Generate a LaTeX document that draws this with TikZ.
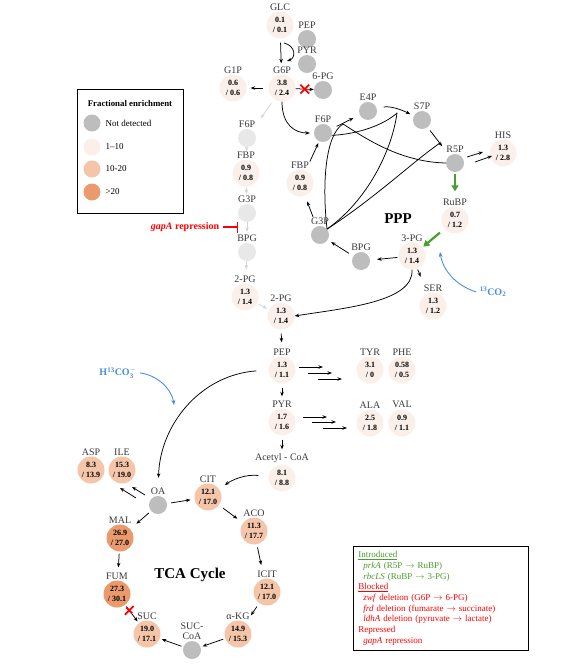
\documentclass[tikz,border=0pt]{standalone}
\usepackage{fontspec}
\setmainfont{Liberation Serif}
\usepackage{xcolor}
\usetikzlibrary{arrows.meta,positioning,shapes.misc}

\definecolor{ndgrey}{HTML}{BDBDBD}
\definecolor{offgrey}{HTML}{E8E8E8}
\definecolor{offline}{HTML}{D4D4D4}
\definecolor{lowfill}{HTML}{FBF0E9}
\definecolor{midfill}{HTML}{F5C5A9}
\definecolor{highfill}{HTML}{EA9A6C}
\definecolor{labgrey}{HTML}{3A3A3A}
\definecolor{introgreen}{HTML}{4A9E2C}
\definecolor{tracerblue}{HTML}{4B8FDB}

\begin{document}
\begin{tikzpicture}[
  x=1pt, y=-1pt,
  font=\fontsize{10}{11}\selectfont,
  met/.style={circle, fill=lowfill, minimum size=27pt, inner sep=0pt,
              align=center, font=\fontsize{8}{10.5}\selectfont\bfseries},
  mid/.style={met, fill=midfill},
  high/.style={met, fill=highfill},
  nd/.style={circle, fill=ndgrey, minimum size=18pt, inner sep=0pt},
  off/.style={nd, fill=offgrey},
  lbl/.style={font=\fontsize{10}{10.5}\selectfont, text=labgrey,
              inner sep=1pt, align=center},
  arr/.style={-{Stealth[length=4.5pt, width=3.5pt]}, line width=0.75pt},
  offarr/.style={arr, draw=offline},
  garr/.style={-{Triangle[length=6pt, width=7pt]}, line width=2.2pt,
               draw=introgreen},
  link/.style={line width=0.75pt},
  tracer/.style={-{Stealth[length=5pt, width=4pt]}, line width=0.9pt,
                 draw=tracerblue},
  tracertext/.style={font=\fontsize{10}{11}\selectfont\bfseries,
                     text=tracerblue},
  crossx/.style={cross out, draw=red, line width=1.8pt, minimum size=7pt,
                 inner sep=0pt},
  key/.style={circle, minimum size=17pt, inner sep=0pt},
]
\fill[white] (0,0) rectangle (587,666);
\useasboundingbox (0,0) rectangle (587,666);

% glycolysis (upper part)
\node[met, label={[lbl]above:GLC}]  (glc)  at (280,25)  {0.1\\/ 0.1};
\node[nd,  label={[lbl]above:PEP}]  (pepa) at (307,39)  {};
\node[nd,  label={[lbl]above:PYR}]  (pyra) at (307,64)  {};
\node[met, label={[lbl]above:G6P}]  (g6p)  at (282,88)  {3.8\\/ 2.4};
\node[met, label={[lbl]above:G1P}]  (g1p)  at (233,88)  {0.6\\/ 0.6};
\node[nd,  label={[lbl]above:6-PG}] (pg6)  at (323,90)  {};
\node[off, label={[lbl]above:F6P}]  (f6pa) at (247,138) {};
\node[met, label={[lbl]above:FBP}]  (fbpa) at (246,173) {0.9\\/ 0.8};
\node[off, label={[lbl]above:G3P}]  (g3pa) at (247,213) {};
\node[off, label={[lbl]above:BPG}]  (bpga) at (247,252) {};
\node[met, label={[lbl]above:2-PG}] (pg2a) at (245,297) {1.3\\/ 1.4};
\node[met, label={[lbl]above:2-PG}] (pg2b) at (281,316) {1.3\\/ 1.4};
\node[met, label={[lbl]above:PEP}]  (pep)  at (282,370) {1.3\\/ 1.1};
\node[met, label={[lbl]above:PYR}]  (pyr)  at (282,422) {1.7\\/ 1.6};
\node[met, label={[lbl]above:Acetyl - CoA}] (acoa) at (282,478) {8.1\\/ 8.8};
\node[met, label={[lbl]above:TYR}]  (tyr)  at (370,370) {3.1\\/ 0};
\node[met, label={[lbl]above:PHE}]  (phe)  at (402,370) {0.58\\/ 0.5};
\node[met, label={[lbl]above:ALA}]  (ala)  at (370,423) {2.5\\/ 1.8};
\node[met, label={[lbl]above:VAL}]  (val)  at (402,423) {0.9\\/ 1.1};

% PPP and Calvin part
\node[nd,  label={[lbl]above:F6P}]  (f6pb) at (323,133) {};
\node[nd,  label={[lbl]above:E4P}]  (e4p)  at (368,111) {};
\node[nd,  label={[lbl]above:S7P}]  (s7p)  at (422,120) {};
\node[nd,  label={[lbl]above:R5P}]  (r5p)  at (455,163) {};
\node[met, label={[lbl]above:HIS}]  (his)  at (503,153) {1.3\\/ 2.8};
\node[met, label={[lbl]above:FBP}]  (fbpb) at (300,183) {0.9\\/ 0.8};
\node[nd,  label={[lbl]above:G3P}]  (g3pb) at (320,235) {};
\node[nd,  label={[lbl]above:BPG}]  (bpgb) at (361,261) {};
\node[met, label={[lbl]above:3-PG}] (pg3)  at (412,256) {1.3\\/ 1.4};
\node[met, label={[lbl]above:RuBP}] (rubp) at (455,220) {0.7\\/ 1.2};
\node[met, label={[lbl]above:SER}]  (ser)  at (433,306) {1.3\\/ 1.2};
\node[font=\fontsize{15}{16}\selectfont\bfseries] (ppp) at (398,219) {PPP};

% TCA cycle
\node[mid,  label={[lbl]above:ASP}]  (asp)    at (91,470)  {8.3\\/ 13.9};
\node[mid,  label={[lbl]above:ILE}]  (ile)    at (122,470) {15.3\\/ 19.0};
\node[nd,   label={[lbl]above:OA}]   (oa)     at (158,505) {};
\node[mid,  label={[lbl]above:CIT}]  (cit)    at (208,497) {12.1\\/ 17.0};
\node[mid,  label={[lbl]above:ACO}]  (aco)    at (254,531) {11.3\\/ 17.7};
\node[mid,  label={[lbl]above:ICIT}] (icit)   at (267,592) {12.1\\/ 17.0};
\node[mid,  label={[lbl]above:α-KG}] (akg)    at (238,634) {14.9\\/ 15.3};
\node[nd,   label={[lbl]above:SUC-\\CoA}] (succoa) at (192,650) {};
\node[mid,  label={[lbl]above:SUC}]  (suc)    at (147,634) {19.0\\/ 17.1};
\node[high, label={[lbl]above:FUM}]  (fum)    at (117,594) {27.3\\/ 30.1};
\node[high, label={[lbl]above:MAL}]  (mal)    at (120,538) {26.9\\/ 27.0};
\node[font=\fontsize{15}{16}\selectfont\bfseries] (tca) at (190,575) {TCA Cycle};

% glycolysis arrows
\coordinate (ptsin)  at (284,43);
\coordinate (ptsout) at (287,61);
\draw[arr, shorten <=4pt, shorten >=11pt] (glc) -- (g6p);
\draw[arr] (ptsin) .. controls (296,46) and (296,58) .. (ptsout);
\draw[arr, shorten <=5pt, shorten >=4pt] (g6p) -- (g1p);
\draw[arr] (g6p) -- node[crossx] (xzwf) {} (pg6);
\draw[arr, shorten >=4pt] (g6p) .. controls (282,125) and (295,133) .. (f6pb);
\draw[offarr, shorten <=5pt, shorten >=15pt] (g6p) -- (f6pa);
\draw[offarr, shorten >=8pt] (f6pa) -- (fbpa);
\draw[offarr, shorten <=1pt, shorten >=10pt] (fbpa) -- (g3pa);
\draw[offarr, shorten >=11pt] (g3pa) -- (bpga);
\draw[offarr, shorten >=14pt] (bpga) -- (pg2a);
\draw[offarr, shorten <=2pt, shorten >=2pt] (pg2a) -- (pg2b);
\draw[arr, shorten <=4pt, shorten >=14pt] (pg2b) -- (pep);
\draw[arr, shorten <=4pt, shorten >=12pt] (pep) -- (pyr);
\draw[arr, shorten <=4pt, shorten >=15pt] (pyr) -- (acoa);
\foreach \dx/\dy in {17/-3, 26/3, 36/9}
  \draw[arr] ([shift={(\dx,\dy)}]pep.center) -- ++(24,0);
\foreach \dx/\dy in {21/-5, 30/0, 41/6}
  \draw[arr] ([shift={(\dx,\dy)}]pyr.center) -- ++(24,0);

% gapA repression
\node[font=\fontsize{10}{11}\selectfont\bfseries, text=red] (gapa) at (185,227)
  {\textit{gapA} repression};
\coordinate (gapt) at (238,227);
\draw[red, line width=1.3pt, -{Bar[width=11pt, line width=1.5pt]}] (gapa.east) -- (gapt);

% PPP arrows
\coordinate (j0) at (343,124);
\coordinate (j1) at (397,113);
\draw[arr, shorten <=10pt, shorten >=2pt] (fbpb) -- (f6pb);
\draw[arr, shorten <=6pt, shorten >=7pt] (f6pb) -- (e4p);
\draw[arr, shorten <=7pt, shorten >=4pt] (e4p) .. controls (388,106) and (398,108) .. (s7p);
\draw[arr, shorten <=4pt, shorten >=12pt] (s7p) -- coordinate[pos=0.56] (j2) (r5p);
\foreach \dx/\dy/\lx/\ly in {12/-6/16/-5, 20/-1/17/-6}
  \draw[arr] ([shift={(\dx,\dy)}]r5p.center) -- ++(\lx,\ly);
\draw[garr, shorten <=2pt, shorten >=15pt] (r5p) -- (rubp);
\draw[garr, shorten <=6pt, shorten >=1pt] (rubp) -- (pg3);
\draw[arr, shorten <=1pt, shorten >=7pt] (pg3) -- (bpgb);
\draw[arr, shorten <=5pt, shorten >=4pt] (bpgb) -- (g3pb);
\draw[arr, shorten <=10pt, shorten >=6pt] (g3pb) -- (fbpb);
\draw[arr, shorten <=1pt, shorten >=18pt] (pg3) -- (ser);
\draw[arr] (pg3.south) .. controls (414,302) and (345,308) .. (pg2b.east);

% transketolase and aldolase links
\draw[link] (g3pb.40) .. controls (322,185) and (325,135) .. (j0);
\draw[link] (j0) .. controls (365,138) and (400,162) .. (r5p.west);
\draw[link] (f6pb.-15) .. controls (360,134) and (385,124) .. (j1);
\draw[link] (g3pb.40) .. controls (368,200) and (392,150) .. (j1);
\draw[link] (g3pb.40) .. controls (375,198) and (415,160) .. (j2);

% tracers
\node[tracertext] (hco) at (118,373) {H\textsuperscript{13}CO$_{\mathbf{3}}^{\mathbf{-}}$};
\coordinate (hcotip) at (174,405);
\draw[tracer] (hco.east) .. controls (158,375) and (172,390) .. (hcotip);
\node[tracertext] (co2) at (493,292) {\textsuperscript{13}CO\textsubscript{2}};
\coordinate (co2tip) at (440,252);
\draw[tracer] (co2.west) .. controls (455,285) and (443,270) .. (co2tip);

% TCA arrows
\draw[arr, shorten <=12pt, shorten >=18pt] (pep.west) .. controls (200,375) and (160,425) .. (oa.north);
\draw[arr, shorten <=10pt, shorten >=7pt] (acoa) .. controls (245,474) and (232,480) .. (cit);
\draw[arr, shorten <=4pt, shorten >=4pt] (oa) -- (cit);
\draw[arr, shorten <=5pt, shorten >=7pt] (cit) -- (aco);
\draw[arr, shorten <=3pt, shorten >=14pt] (aco) -- (icit);
\draw[arr, shorten <=4pt, shorten >=9pt] (icit) -- (akg);
\draw[arr, shorten <=2pt, shorten >=2pt] (akg) -- (succoa);
\draw[arr, shorten <=2pt, shorten >=2pt] (succoa) -- (suc);
\draw[arr, shorten <=2pt, shorten >=2pt] (fum) -- node[crossx, pos=0.3] (xfrd) {} (suc);
\draw[arr, shorten <=2pt, shorten >=13pt] (mal) -- (fum);
\draw[arr, shorten <=3pt, shorten >=8pt] (oa) -- (mal);
\foreach \dx/\dy/\lx/\ly in {-13/-10/-13/-8, -22/-7/-16/-10}
  \draw[arr] ([shift={(\dx,\dy)}]oa.center) -- ++(\lx,\ly);

% legend: fractional enrichment
\node[draw, line width=0.9pt, anchor=north west, minimum width=106pt,
      minimum height=124pt] (legend) at (77,89) {};
\node[font=\fontsize{8.8}{9.5}\selectfont\bfseries] (legtitle) at (130,103) {Fractional enrichment};
\foreach \i/\y/\c/\t in {1/123/ndgrey/Not detected, 2/147/lowfill/1--10,
                         3/169/midfill/10-20, 4/192/highfill/>20} {
  \node[key, fill=\c] (key\i) at (92,\y) {};
  \node[anchor=west, font=\fontsize{9}{10}\selectfont] (keytext\i) at (102,\y) {\t};
}

% legend: engineering
\node[draw, line width=0.9pt, anchor=north west, text width=165pt,
      minimum height=103pt, inner sep=5pt, align=left,
      font=\fontsize{9}{10.7}\selectfont] (mods) at (353,546) {%
  {\color{introgreen}\underline{Introduced}}\\
  \hspace*{5pt}{\color{introgreen}\textit{prkA} (R5P $\rightarrow$ RuBP)}\\
  \hspace*{5pt}{\color{introgreen}\textit{rbcLS} (RuBP $\rightarrow$ 3-PG)}\\
  {\color{red}\underline{Blocked}}\\
  \hspace*{5pt}{\color{red}\textit{zwf} deletion (G6P $\rightarrow$ 6-PG)}\\
  \hspace*{5pt}{\color{red}\textit{frd} deletion (fumarate $\rightarrow$ succinate)}\\
  \hspace*{5pt}{\color{red}\textit{ldhA} deletion (pyruvate $\rightarrow$ lactate)}\\
  {\color{red}Repressed}\\
  \hspace*{5pt}{\color{red}\textit{gapA} repression}};

\end{tikzpicture}
\end{document}
